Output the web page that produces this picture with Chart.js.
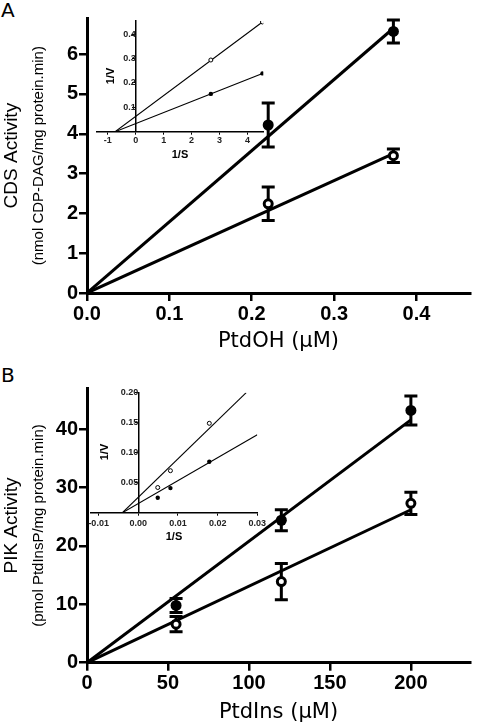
<!DOCTYPE html>
<html>
<head>
<meta charset="utf-8">
<script src="https://cdn.jsdelivr.net/npm/chart.js@4.4.1/dist/chart.umd.min.js"></script>
<style>
  body { margin: 0; background: #fff; width: 477px; height: 725px; position: relative; overflow: hidden; }
  canvas { position: absolute; }
  .panel { position: absolute; font-family: "DejaVu Sans", sans-serif; font-size: 20px; line-height: 1; color: #000; }
  .vlab { position: absolute; font-family: "Liberation Sans", sans-serif; font-weight: bold; font-size: 11px; line-height: 1;
          color: #000; transform: translate(-50%, -50%) rotate(-90deg); white-space: nowrap; z-index: 5; }
</style>
</head>
<body>
<div class="panel" style="left:1px; top:0px;">A</div>
<div class="panel" style="left:1px; top:365px;">B</div>
<canvas id="cdsChart" width="477" height="360" style="left:0; top:0;"></canvas>
<canvas id="cdsInset" width="190" height="160" style="left:90px; top:10px;"></canvas>
<canvas id="pikChart" width="477" height="365" style="left:0; top:360px;"></canvas>
<canvas id="pikInset" width="190" height="175" style="left:80px; top:375px;"></canvas>
<div class="vlab" style="left:110px; top:76px;">1/V</div>
<div class="vlab" style="left:104px; top:452px;">1/V</div>
<script>
// Panel A - CDS activity vs PtdOH
const cdsX = [0.22, 0.372];
const cdsFilled = [4.22, 6.57];
const cdsFilledErr = [0.55, 0.29];
const cdsOpen = [2.24, 3.45];
const cdsOpenErr = [0.42, 0.17];
const cdsFitX = [0, 0.372];
const cdsFitFilled = [0, 6.65];
const cdsFitOpen = [0, 3.5];

// Panel A inset - double reciprocal
const cdsInvX = [2.69, 4.54];
const cdsInvFilled = [0.155, 0.239];
const cdsInvOpen = [0.294, 0.45];
const cdsInvFitX = [-0.74, 4.54];
const cdsInvFitFilled = [0, 0.239];
const cdsInvFitOpen = [0, 0.45];

// Panel B - PIK activity vs PtdIns
const pikX = [55, 120, 200];
const pikFilled = [9.8, 24.4, 43.2];
const pikFilledErr = [1.2, 1.8, 2.5];
const pikOpen = [6.6, 13.9, 27.3];
const pikOpenErr = [1.3, 3.1, 1.9];
const pikFitX = [0, 200];
const pikFitFilled = [0, 41.6];
const pikFitOpen = [0, 26.2];

// Panel B inset - double reciprocal
const pikInvX = [0.0049, 0.0081, 0.0179];
const pikInvFilled = [0.025, 0.041, 0.085];
const pikInvOpen = [0.042, 0.070, 0.149];
const pikInvFitXFilled = [-0.004, 0.03];
const pikInvFitFilled = [0, 0.13];
const pikInvFitXOpen = [-0.004, 0.0272];
const pikInvFitOpen = [0, 0.2];

const pts = (xs, ys) => xs.map((x, i) => ({ x: x, y: ys[i] }));

// error bars drawn through the chart scales, under the points
const errorBars = {
  id: 'errorBars',
  beforeDatasetsDraw(chart, args, opts) {
    if (!opts.sets) return;
    const ctx = chart.ctx;
    const xs = chart.scales.x, ys = chart.scales.y;
    ctx.save();
    ctx.strokeStyle = '#000';
    ctx.lineWidth = 3;
    opts.sets.forEach(s => {
      s.x.forEach((xv, i) => {
        const px = xs.getPixelForValue(xv);
        const top = ys.getPixelForValue(s.y[i] + s.err[i]);
        const bot = ys.getPixelForValue(s.y[i] - s.err[i]);
        ctx.beginPath();
        ctx.moveTo(px, top); ctx.lineTo(px, bot);
        ctx.moveTo(px - 6.5, top); ctx.lineTo(px + 6.5, top);
        ctx.moveTo(px - 6.5, bot); ctx.lineTo(px + 6.5, bot);
        ctx.stroke();
      });
    });
    ctx.restore();
  }
};

const tickFont = { family: 'Liberation Sans', size: 20, weight: 'bold' };
const smallFont = { family: 'Liberation Sans', size: 9, weight: 'bold' };

function titleAxis(text, size, pad, w, weight) {
  return {
    type: 'linear', position: 'left', weight: weight,
    afterFit: s => { s.width = w; },
    ticks: { display: false },
    grid: { display: false },
    border: { display: false },
    title: { display: true, text: text, color: '#000', padding: { top: pad, bottom: 0 },
             font: { family: 'Liberation Sans', size: size } }
  };
}

function makeMain(id, o) {
  return new Chart(document.getElementById(id), {
    type: 'scatter',
    data: {
      datasets: [
        { data: pts(o.x, o.filled), pointRadius: 5.5, pointBackgroundColor: '#000', pointBorderWidth: 0 },
        { data: pts(o.x, o.open), pointRadius: 4, pointBackgroundColor: '#fff', pointBorderColor: '#000', pointBorderWidth: 3 },
        { data: pts(o.fitX, o.fitFilled), showLine: true, borderColor: '#000', borderWidth: 3, pointRadius: 0 },
        { data: pts(o.fitX, o.fitOpen), showLine: true, borderColor: '#000', borderWidth: 3, pointRadius: 0 }
      ]
    },
    plugins: [errorBars],
    options: {
      responsive: false,
      animation: false,
      devicePixelRatio: 1,
      layout: { padding: { left: 0, right: 0, top: o.padTop, bottom: 0 } },
      plugins: {
        legend: { display: false },
        tooltip: { enabled: false },
        errorBars: { sets: [
          { x: o.x, y: o.filled, err: o.filledErr },
          { x: o.x, y: o.open, err: o.openErr }
        ] }
      },
      scales: {
        x: {
          type: 'linear', min: 0, max: o.xMax,
          afterFit: s => { s.height = o.xHeight; },
          border: { color: '#000', width: 3 },
          grid: { drawOnChartArea: false, color: '#000', lineWidth: 2.5, tickLength: 8 },
          ticks: { stepSize: o.xStep, includeBounds: false, color: '#000', font: tickFont, padding: 1, maxRotation: 0,
                   callback: o.xFmt },
          title: { display: true, text: o.xTitle, color: '#000', padding: { top: 0, bottom: o.xTitlePad },
                   font: { family: 'DejaVu Sans', size: 21 } }
        },
        y: {
          type: 'linear', min: 0, max: o.yMax, weight: 0,
          afterFit: s => { s.width = 39; },
          border: { color: '#000', width: 3 },
          grid: { drawOnChartArea: false, color: '#000', lineWidth: 2.5, tickLength: 8 },
          ticks: { stepSize: o.yStep, includeBounds: false, color: '#000', font: tickFont, padding: 1 }
        },
        ySub: titleAxis(o.ySub, 15, 5.5, 24, 1),
        yTitle: titleAxis(o.yTitle, 19, 0, 24, 2)
      }
    }
  });
}

function makeInset(id, o) {
  return new Chart(document.getElementById(id), {
    type: 'scatter',
    data: {
      datasets: [
        { data: pts(o.x, o.filled), pointRadius: 2.2, pointBackgroundColor: '#000', pointBorderWidth: 0 },
        { data: pts(o.x, o.open), pointRadius: 2, pointBackgroundColor: '#fff', pointBorderColor: '#000', pointBorderWidth: 1 },
        { data: pts(o.fitXFilled, o.fitFilled), showLine: true, borderColor: '#000', borderWidth: 1.1, pointRadius: 0 },
        { data: pts(o.fitXOpen, o.fitOpen), showLine: true, borderColor: '#000', borderWidth: 1.1, pointRadius: 0 }
      ]
    },
    options: {
      responsive: false,
      animation: false,
      devicePixelRatio: 1,
      layout: { padding: o.pad },
      plugins: { legend: { display: false }, tooltip: { enabled: false } },
      scales: {
        x: {
          type: 'linear', min: o.xMin, max: o.xMax,
          afterFit: s => { s.height = o.xHeight; },
          border: { color: '#000', width: 1.5 },
          grid: { drawOnChartArea: false, color: '#000', lineWidth: 1, tickLength: 3 },
          ticks: { stepSize: o.xStep, includeBounds: false, color: '#222', font: smallFont, padding: o.xTickPad, maxRotation: 0,
                   callback: o.xFmt },
          title: { display: true, text: '1/S', color: '#000', padding: { top: 0, bottom: o.xTitlePad },
                   font: { family: 'Liberation Sans', size: 11, weight: 'bold' } }
        },
        y: {
          type: 'linear', min: 0, max: o.yMax, position: { x: 0 },
          afterFit: s => { s.width = o.yWidth; },
          border: { color: '#000', width: 1.5 },
          grid: { drawOnChartArea: false, color: '#000', lineWidth: 1, tickLength: 3 },
          ticks: { stepSize: o.yStep, includeBounds: false, color: '#222', font: smallFont, padding: 2.5,
                   callback: o.yFmt }
        }
      }
    }
  });
}

makeMain('cdsChart', {
  x: cdsX, filled: cdsFilled, filledErr: cdsFilledErr, open: cdsOpen, openErr: cdsOpenErr,
  fitX: cdsFitX, fitFilled: cdsFitFilled, fitOpen: cdsFitOpen,
  xMax: 0.465, xStep: 0.1, xFmt: v => v.toFixed(1), yMax: 6.9, yStep: 1,
  padTop: 18.3, xHeight: 67, xTitlePad: 6,
  xTitle: 'PtdOH (\u03bcM)', yTitle: 'CDS Activity', ySub: '(nmol CDP-DAG/mg protein.min)'
});

makeInset('cdsInset', {
  x: cdsInvX, filled: cdsInvFilled, open: cdsInvOpen,
  fitXFilled: cdsInvFitX, fitFilled: cdsInvFitFilled, fitXOpen: cdsInvFitX, fitOpen: cdsInvFitOpen,
  xMin: -1.4, xMax: 4.57, xStep: 1, xFmt: v => String(v), yMax: 0.454, yStep: 0.1,
  yFmt: v => (v === 0 ? '' : v.toFixed(1)),
  pad: { left: 6.7, right: 16.7, top: 11, bottom: 0 }, xHeight: 38.3, xTitlePad: 8.4, xTickPad: 0, yWidth: 32.6
});

makeMain('pikChart', {
  x: pikX, filled: pikFilled, filledErr: pikFilledErr, open: pikOpen, openErr: pikOpenErr,
  fitX: pikFitX, fitFilled: pikFitFilled, fitOpen: pikFitOpen,
  xMax: 236.5, xStep: 50, xFmt: v => String(v), yMax: 47, yStep: 10,
  padTop: 28.3, xHeight: 62.3, xTitlePad: 0,
  xTitle: 'PtdIns (\u03bcM)', yTitle: 'PIK Activity', ySub: '(pmol PtdInsP/mg protein.min)'
});

makeInset('pikInset', {
  x: pikInvX, filled: pikInvFilled, open: pikInvOpen,
  fitXFilled: pikInvFitXFilled, fitFilled: pikInvFitFilled, fitXOpen: pikInvFitXOpen, fitOpen: pikInvFitOpen,
  xMin: -0.012, xMax: 0.03, xStep: 0.01, xFmt: v => v.toFixed(2), yMax: 0.2, yStep: 0.05,
  yFmt: v => (v === 0 ? '' : v.toFixed(2)),
  pad: { left: 10.7, right: 12.7, top: 17.7, bottom: 0 }, xHeight: 37.3, xTitlePad: 6.7, xTickPad: 2, yWidth: 41
});
</script>
</body>
</html>
